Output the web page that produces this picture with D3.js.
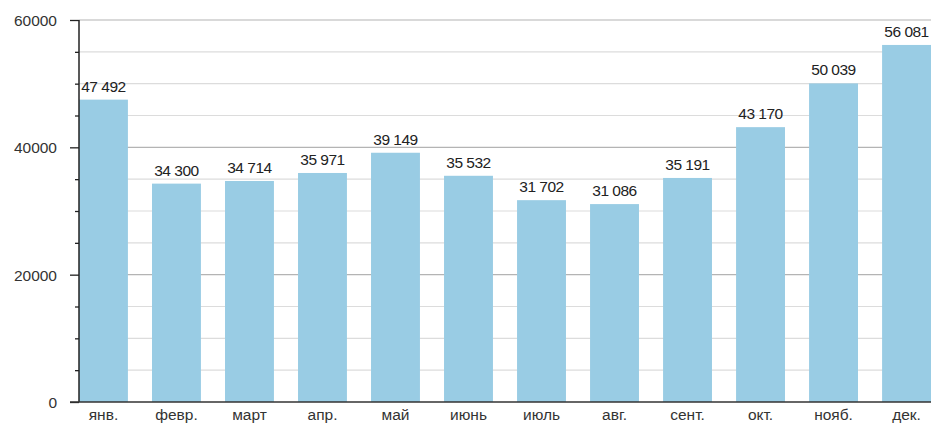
<!DOCTYPE html>
<html><head><meta charset="utf-8">
<script src="https://d3js.org/d3.v7.min.js"></script>
<style>
html,body{margin:0;padding:0;background:#fff;}
svg{display:block;font-family:"Liberation Sans",Arial,Helvetica,sans-serif;}
</style></head>
<body><svg id="c" width="939" height="424"></svg>
<script>
const months = ["янв.","февр.","март","апр.","май","июнь","июль","авг.","сент.","окт.","нояб.","дек."];
const values = [47492,34300,34714,35971,39149,35532,31702,31086,35191,43170,50039,56081];
const majorTicks = [0,20000,40000,60000];
const minorTicks = d3.range(0,60001,5000);

const svg = d3.select("#c");
const mLeft = 79, mRight = 931, mTop = 20, mBottom = 402;
const x = d3.scaleBand().domain(months).range([mLeft,mRight]).paddingInner(0.33).paddingOuter(0);
const y = d3.scaleLinear().domain([0,60000]).range([mBottom,mTop]);

// gridlines
svg.append("g").selectAll("line").data(minorTicks.filter(d=>d>0)).join("line")
  .attr("x1",mLeft).attr("x2",mRight)
  .attr("y1",d=>y(d)).attr("y2",d=>y(d))
  .attr("stroke",d=>majorTicks.includes(d)?"#b4b4b4":"#dcdcdc")
  .attr("stroke-width",1.2);

// bars
svg.append("g").selectAll("rect").data(values).join("rect")
  .attr("x",(d,i)=>x(months[i])).attr("width",x.bandwidth())
  .attr("y",d=>y(d)).attr("height",d=>y(0)-y(d))
  .attr("fill","#99cce4");

// value labels
const fmt = v => d3.format(",")(v).replace(/,/g," ");
svg.append("g").selectAll("text").data(values).join("text")
  .attr("x",(d,i)=>x(months[i])+x.bandwidth()/2)
  .attr("y",d=>y(d)-8)
  .attr("text-anchor","middle")
  .attr("font-size",15.5).attr("letter-spacing","-0.5px")
  .attr("fill","#222")
  .text(fmt);

// y axis
const yAxis = d3.axisLeft(y).tickValues(minorTicks)
  .tickSize(0).tickFormat(d=>majorTicks.includes(d)?d:"");
const ga = svg.append("g").attr("transform",`translate(${mLeft},0)`).call(yAxis);
ga.select(".domain").remove();
ga.selectAll(".tick line").remove();
ga.selectAll(".tick").append("line")
  .attr("x1",d=>majorTicks.includes(d)?-9:-4).attr("x2",0)
  .attr("stroke","#222").attr("stroke-width",1.3);
ga.selectAll(".tick text").attr("x",-22).attr("dy","0.35em")
  .attr("font-size",15.5).attr("fill","#333").attr("font-family",null);
svg.append("line").attr("x1",mLeft).attr("x2",mLeft).attr("y1",mTop).attr("y2",mBottom)
  .attr("stroke","#222").attr("stroke-width",1.5);

// x axis
svg.append("line").attr("x1",70).attr("x2",mRight).attr("y1",mBottom).attr("y2",mBottom)
  .attr("stroke","#333").attr("stroke-width",1.5);
const xAxis = d3.axisBottom(x).tickSize(0);
const gx = svg.append("g").attr("transform",`translate(0,${mBottom})`).call(xAxis);
gx.select(".domain").remove();
gx.selectAll(".tick text").attr("y",18).attr("dy",0)
  .attr("font-size",15.5).attr("fill","#333").attr("font-family",null);
</script></body></html>
